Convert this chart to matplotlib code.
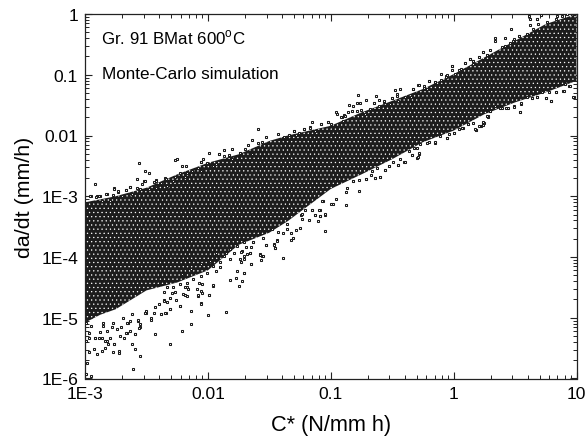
import numpy as np
import matplotlib
matplotlib.use("Agg")
import matplotlib.pyplot as plt
from matplotlib.ticker import FixedLocator, NullFormatter

plt.rcParams['font.family'] = ['Liberation Sans', 'DejaVu Sans']
plt.rcParams['mathtext.fontset'] = 'custom'
plt.rcParams['mathtext.rm'] = 'Liberation Sans'
plt.rcParams['hatch.linewidth'] = 0.4

# log10 values
# dense part of the cloud, upper and lower edge
band_c = [-3.0, -2.875, -2.75, -2.5, -2.25, -2.0, -1.75, -1.5, -1.35, -1.0, -0.75, -0.5, -0.25, 0.0, 0.25, 0.5, 0.75, 1.0]
band_hi = [-3.1, -3.05, -3.0, -2.86, -2.64, -2.45, -2.31, -2.09, -2.0, -1.84, -1.62, -1.43, -1.235, -0.99, -0.715, -0.44, -0.165, 0.0]
band_lo = [-5.08, -4.95, -4.86, -4.55, -4.42, -4.22, -3.8, -3.6, -3.41, -2.88, -2.64, -2.39, -2.11, -1.92, -1.65, -1.455, -1.29, -1.1]

# loose points above the cloud
above_c = [-2.92, -2.95, -2.90, -2.88, -2.82, -2.76, -2.73, -2.67, -2.63, -2.58, -2.56, -2.51, -2.48, -2.52,
           -2.42, -2.35, -2.27, -2.25, -2.21, -2.18, -2.13, -2.06, -2.04, -1.99, -1.91, -1.87, -1.80, -1.83,
           -1.74, -1.67, -1.64, -1.59, -1.59, -1.56, -1.53, -1.43, -1.38, -1.34, -1.30, -1.26, -1.22, -1.17,
           -1.15, -1.08, -1.02, -0.96, -0.91, -0.89, -0.85, -0.86, -0.82, -0.79, -0.78, -0.76, -0.71, -0.65,
           -0.63, -0.61, -0.57, -0.50, -0.48, -0.44, -0.46, -0.33, -0.29, -0.24, -0.20, -0.15, -0.10, -0.06,
           -0.01, -0.01, 0.04, 0.09, 0.13, 0.16, 0.21, 0.24, 0.27, 0.34, 0.34, 0.39, 0.42, 0.47, 0.48, 0.53,
           0.62, 0.62, 0.61, 0.68, 0.71, 0.84]
above_r = [-2.80, -2.99, -3.0, -2.99, -2.97, -2.87, -2.93, -2.90, -2.84, -2.71, -2.45, -2.58, -2.62, -2.75,
           -2.74, -2.70, -2.41, -2.39, -2.50, -2.51, -2.57, -2.43, -2.39, -2.28, -2.31, -2.24, -2.23, -2.34,
           -2.28, -2.16, -2.07, -1.90, -2.12, -2.10, -2.03, -1.98, -2.03, -1.99, -1.92, -1.96, -1.90, -1.86,
           -1.77, -1.81, -1.77, -1.62, -1.70, -1.66, -1.49, -1.61, -1.51, -1.46, -1.33, -1.47, -1.41, -1.47,
           -1.35, -1.41, -1.45, -1.39, -1.25, -1.24, -1.32, -1.24, -1.17, -1.19, -1.10, -1.12, -0.98, -1.02,
           -0.85, -0.93, -0.92, -0.81, -0.74, -0.77, -0.70, -0.63, -0.67, -0.40, -0.45, -0.54, -0.40, -0.24,
           -0.44, -0.37, -0.09, -0.18, -0.04, -0.08, -0.02, -0.03]

# loose points below the cloud
below_c = [0.976, 0.94, 0.89, 0.83, 0.79, 0.75, 0.68, 0.64, 0.54, 0.55, 0.49, 0.43, 0.38, 0.28, 0.24, 0.22,
           0.18, 0.12, 0.08, 0.0, -0.05, -0.15, -0.22, -0.28, -0.30, -0.34, -0.40, -0.45, -0.53, -0.56, -0.60,
           -0.64, -0.71, -0.77, -0.82, -0.875, -0.875, -0.96, -1.0, -1.06, -1.05, -1.09, -1.09, -1.13, -1.15,
           -1.24, -1.385, -1.45, -1.46, -1.44, -1.53, -1.56, -1.575, -1.65, -1.66, -1.63, -1.71, -1.76, -1.72,
           -1.75, -1.77, -1.82, -1.855, -1.99, -2.0, -2.06, -2.08, -2.14, -2.14, -2.21, -2.23, -2.31, -2.34,
           -2.38, -2.43, -2.61, -2.55, -2.59, -2.615, -2.72, -2.72, -2.77, -2.76, -2.81, -2.82, -2.84, -2.865,
           -2.90, -2.93, -2.965, -2.98, -2.99, -2.95, -2.92, -2.89, -2.97, -2.74, -2.715, -2.66, -2.55, -2.59,
           -2.565, -2.65, -2.85, -2.78, -2.50, -2.46, -2.31, -2.36, -2.29, -2.19, -2.17, -2.06, -1.955, -1.90]
below_r = [-1.36, -1.19, -1.26, -1.29, -1.43, -1.38, -1.36, -1.39, -1.61, -1.48, -1.51, -1.55, -1.54, -1.68,
           -1.80, -1.85, -1.91, -1.81, -1.88, -1.96, -2.04, -2.12, -2.12, -2.30, -2.37, -2.32, -2.43, -2.49,
           -2.51, -2.57, -2.69, -2.70, -2.72, -2.91, -2.75, -2.93, -3.14, -3.05, -3.13, -3.08, -3.31, -3.23,
           -3.32, -3.31, -3.23, -3.31, -4.01, -3.86, -3.79, -3.72, -3.795, -3.98, -3.95, -4.11, -3.93, -3.76,
           -4.27, -4.23, -4.39, -4.48, -4.35, -4.38, -4.90, -4.62, -4.96, -4.76, -4.64, -4.89, -5.10, -5.22,
           -4.81, -5.44, -4.93, -4.94, -5.26, -5.84, -5.63, -5.51, -5.44, -5.58, -5.54, -5.56, -5.43, -5.44,
           -5.38, -5.49, -5.54, -5.60, -5.52, -5.56, -5.74, -5.92, -5.96, -5.33, -5.33, -5.34, -5.19, -5.30,
           -5.25, -5.16, -5.26, -5.05, -5.09, -5.14, -5.16, -4.93, -5.0, -4.85, -4.70, -4.60, -4.63, -4.50,
           -4.56, -4.48, -4.17]

# points along the edge of the cloud, upper left
edge_top_c = [-2.96, -2.91, -2.89, -2.83, -2.76, -2.77, -2.73, -2.67, -2.63, -2.58, -2.54, -2.51, -2.44, -2.42,
              -2.38, -2.34, -2.33, -2.27, -2.23, -2.17, -2.13, -2.08, -2.06, -2.01, -1.955, -1.93, -1.91, -1.87,
              -1.83, -1.80, -1.74, -1.70, -1.64, -2.86, -2.80, -2.70, -2.62, -2.55, -2.48, -2.42, -2.28, -2.19, -2.06]
edge_top_r = [-3.0, -3.01, -2.99, -2.97, -2.88, -2.98, -2.91, -2.89, -2.84, -2.86, -2.80, -2.75, -2.76, -2.75,
              -2.79, -2.71, -2.83, -2.68, -2.62, -2.62, -2.58, -2.53, -2.43, -2.45, -2.51, -2.47, -2.31, -2.33,
              -2.32, -2.39, -2.29, -2.22, -2.31, -3.08, -3.08, -2.99, -2.97, -2.88, -2.88, -2.86, -2.75, -2.69, -2.58]

# points along the edge of the cloud, lower left
edge_low_c = [-2.99, -2.92, -2.86, -2.84, -2.80, -2.76, -2.68, -2.67, -2.63, -2.59, -2.56, -2.55, -2.46, -2.44,
              -2.51, -2.38, -2.35, -2.31, -2.40, -2.33, -2.26, -2.23, -2.17, -2.20, -2.08, -2.06, -2.09, -2.05,
              -1.99, -1.955, -2.05, -2.16, -2.36, -2.66, -2.63, -2.85, -2.77, -2.71, -2.82, -2.88, -2.97, -2.95,
              -2.99, -2.69, -2.57, -2.50, -2.62, -2.43, -2.31, -2.27, -2.19, -2.07, -2.36,
              -1.79, -1.85, -1.87, -1.82, -1.90, -1.955, -1.93, -2.01, -2.06, -2.12, -2.17, -2.23, -2.28, -2.33,
              -1.74, -1.68, -1.72, -1.76, -1.82, -1.93, -1.98, -2.06, -2.14, -2.21]
edge_low_r = [-5.38, -5.34, -5.33, -5.39, -5.33, -5.43, -5.34, -5.25, -5.22, -5.27, -5.17, -5.10, -5.03, -4.93,
              -4.93, -4.94, -4.93, -4.85, -4.78, -4.74, -4.70, -4.81, -4.64, -4.61, -4.63, -4.77, -4.53, -4.59,
              -4.62, -4.46, -4.45, -4.52, -4.57, -5.08, -5.05, -5.09, -5.08, -5.16, -5.22, -5.23, -5.25, -5.14,
              -5.08, -5.0, -5.03, -4.89, -4.94, -4.83, -4.68, -4.58, -4.49, -4.43, -4.72,
              -3.93, -3.93, -3.98, -4.04, -4.09, -4.15, -4.23, -4.26, -4.31, -4.37, -4.42, -4.45, -4.50, -4.50,
              -4.04, -3.95, -3.90, -3.82, -3.87, -3.93, -4.06, -4.12, -4.20, -4.28]

# points along the edge of the cloud, lower middle
edge_mid_c = [-1.05, -1.106, -1.176, -1.13, -1.09, -1.05, -1.095, -0.98, -1.236, -1.25, -1.285, -1.325, -1.385,
              -1.31, -1.32, -1.44, -1.46, -1.45, -1.53, -1.63, -1.65, -1.69, -1.71, -1.73, -1.66, -1.575, -1.55,
              -1.57, -1.71, -1.705, -1.73, -1.65, -1.71, -1.36, -1.43, -1.21, -1.155, -1.55, -1.48, -1.36, -1.236, -1.07]
edge_mid_r = [-3.58, -3.40, -3.39, -3.31, -3.32, -3.30, -3.23, -3.13, -3.37, -3.515, -3.55, -3.60, -3.61,
              -3.69, -3.72, -3.73, -3.80, -3.86, -3.80, -3.76, -3.83, -3.83, -3.76, -3.91, -3.93, -3.97, -3.98,
              -4.05, -3.98, -4.03, -4.09, -4.12, -4.27, -3.54, -3.59, -3.23, -3.23, -3.68, -3.54, -3.46, -3.30, -3.08]

# points along the edge of the cloud, upper right
edge_upper_c = [-1.30, -1.22, -1.17, -1.08, -1.02, -0.95, -0.92, -0.88, -0.83, -0.79, -0.75, -0.68, -0.65, -0.61,
                -0.57, -0.50, -0.46, -0.45, -0.395, -0.33, -0.285, -0.245, -0.20, -0.15, -0.10, -0.06, 0.01, -1.28,
                -1.13, -1.0, -0.90, -0.72, -0.52, -0.35, -0.22, -0.055, -0.015, 0.06, 0.09, 0.13, 0.16, 0.21, 0.24,
                0.27, 0.46, 0.49, 0.53, 0.60, 0.65, 0.69, 0.76, 0.83, 0.88, 0.92, 0.68, 0.42, 0.30, 0.16]
edge_upper_r = [-1.92, -1.895, -1.87, -1.81, -1.77, -1.65, -1.70, -1.675, -1.59, -1.59, -1.58, -1.565, -1.47, -1.51,
                -1.44, -1.39, -1.345, -1.43, -1.36, -1.24, -1.17, -1.21, -1.10, -1.115, -1.08, -1.03, -0.99, -1.99,
                -1.92, -1.81, -1.76, -1.65, -1.48, -1.37, -1.24, -1.0, -0.86, -0.91, -0.80, -0.74, -0.77, -0.70, -0.63,
                -0.67, -0.47, -0.41, -0.36, -0.33, -0.25, -0.165, -0.13, -0.08, -0.03, 0.0, -0.08, -0.52, -0.60, -0.82]

# points along the edge of the cloud, lower right
edge_under_c = [-0.87, -0.77, -0.715, -0.64, -0.60, -0.67, -0.56, -0.53, -0.45, -0.395, -0.435, -0.49, -0.29, -0.28,
                -0.34, -0.36, -0.325, -0.295, -0.155, -0.20, -0.27, -0.05, -0.04, 0.0, 0.07, 0.18, 0.216, 0.25, 0.16,
                0.12, 0.28, 0.30, -0.815, -0.665, -0.625, -0.11, 0.04, 0.17, 0.21, 0.24, 0.24, 0.27, 0.39, 0.44, 0.49,
                0.54, 0.55, 0.64, 0.68, 0.75, 0.79, 0.78, 0.83, 0.895, 0.945, 0.91, 0.97, 0.60, 0.72, 0.34, 0.30]
edge_under_r = [-2.86, -2.73, -2.72, -2.70, -2.69, -2.65, -2.565, -2.51, -2.49, -2.43, -2.38, -2.44, -2.36, -2.295,
                -2.32, -2.25, -2.20, -2.20, -2.11, -2.10, -2.14, -2.04, -1.98, -1.96, -1.88, -1.905, -1.85, -1.795, -1.795,
                -1.81, -1.70, -1.59, -2.75, -2.58, -2.53, -2.0, -1.895, -1.885, -1.84, -1.785, -1.83, -1.675, -1.54, -1.55, -1.53,
                -1.61, -1.47, -1.39, -1.36, -1.38, -1.43, -1.29, -1.28, -1.26, -1.19, -1.15, -1.36, -1.37, -1.29, -1.51, -1.59]

x_ticks = [1e-3, 0.01, 0.1, 1, 10]
x_labels = ['1E-3', '0.01', '0.1', '1', '10']
y_ticks = [1e-6, 1e-5, 1e-4, 1e-3, 0.01, 0.1, 1]
y_labels = ['1E-6', '1E-5', '1E-4', '1E-3', '0.01', '0.1', '1']


def minor_locs(lo, hi):
    return [m * 10.0 ** e for e in range(lo, hi) for m in range(2, 10)]


fig = plt.figure(figsize=(5.87, 4.39), dpi=100)
ax = fig.add_axes([85 / 587, 1 - 379.5 / 439, 491.5 / 587, 364.5 / 439])
ax.set_xscale('log')
ax.set_yscale('log')
ax.set_xlim(1e-3, 10)
ax.set_ylim(1e-6, 1)

ax.fill_between(10.0 ** np.array(band_c), 10.0 ** np.array(band_lo), 10.0 ** np.array(band_hi),
                facecolor='#1c1c1c', edgecolor='white', hatch='....', linewidth=0, zorder=2)

groups = [(above_c, above_r), (below_c, below_r), (edge_top_c, edge_top_r),
          (edge_low_c, edge_low_r), (edge_mid_c, edge_mid_r),
          (edge_upper_c, edge_upper_r), (edge_under_c, edge_under_r)]
for c, r in groups:
    ax.plot(10.0 ** np.array(c), 10.0 ** np.array(r), 's', ms=2.1, mfc='white', mec='#1a1a1a', mew=0.75, zorder=3)

ax.xaxis.set_major_locator(FixedLocator(x_ticks))
ax.yaxis.set_major_locator(FixedLocator(y_ticks))
ax.xaxis.set_minor_locator(FixedLocator(minor_locs(-3, 1)))
ax.yaxis.set_minor_locator(FixedLocator(minor_locs(-6, 0)))
ax.xaxis.set_minor_formatter(NullFormatter())
ax.yaxis.set_minor_formatter(NullFormatter())
ax.set_xticklabels(x_labels, fontsize=12.6)
ax.set_yticklabels(y_labels, fontsize=12.6)
ax.tick_params(axis='x', which='major', pad=5.5)
ax.tick_params(axis='y', which='major', pad=5)
ax.tick_params(which='major', direction='in', top=True, right=True, length=5, width=0.8, color='#222222')
ax.tick_params(which='minor', direction='in', top=True, right=True, length=2.8, width=0.7, color='#222222')
for s in ax.spines.values():
    s.set_linewidth(0.9)
    s.set_color('#222222')

ax.set_xlabel('C* (N/mm h)', fontsize=15.7, labelpad=9)
ax.set_ylabel('da/dt (mm/h)', fontsize=15.4, labelpad=5)

ax.text(0.033, 0.938, 'Gr. 91 BMat 600$^{\\mathrm{o}}$C', transform=ax.transAxes, fontsize=12.2, va='center')
ax.text(0.035, 0.838, 'Monte-Carlo simulation', transform=ax.transAxes, fontsize=12.3, va='center')

fig.savefig('out.png', dpi=100)
